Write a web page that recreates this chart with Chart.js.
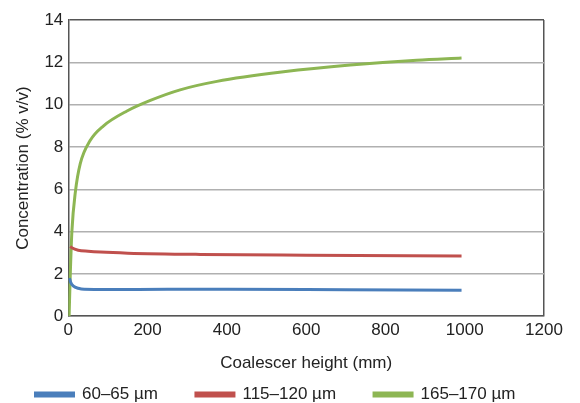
<!DOCTYPE html>
<html>
<head>
<meta charset="utf-8">
<script src="https://cdn.jsdelivr.net/npm/chart.js@4/dist/chart.umd.min.js"></script>
<style>
  html, body { margin: 0; padding: 0; background: #fff; }
  #wrap { width: 580px; height: 403px; position: relative; }
</style>
</head>
<body>
<div id="wrap"><canvas id="chart"></canvas></div>
<script>
// series labels
const seriesNames = ['60–65 µm', '115–120 µm', '165–170 µm'];

// coalescer height (mm) and concentration (% v/v)
const blueX = [3, 6, 13, 25, 40, 100, 250, 400, 700, 992];
const blueY = [1.8, 1.6, 1.42, 1.32, 1.27, 1.26, 1.27, 1.27, 1.25, 1.23];

const redX = [5, 10, 25, 50, 81, 150, 333, 600, 992];
const redY = [3.3, 3.22, 3.12, 3.07, 3.03, 2.98, 2.92, 2.88, 2.84];

const greenX = [2, 5, 9, 18, 30, 55, 89, 148, 207, 282, 375, 543, 711, 879, 992];
const greenY = [0, 2.0, 4.0, 5.9, 7.2, 8.3, 9.0, 9.7, 10.2, 10.7, 11.1, 11.55, 11.87, 12.1, 12.2];

const colors = ['#4a7ebb', '#c0504d', '#8db653'];

function pts(xs, ys) {
  return xs.map((x, i) => ({ x: x, y: ys[i] }));
}

const font = { family: 'Liberation Sans, Arial, sans-serif', size: 17 };
Chart.defaults.color = '#222';

// legend: wide gaps between items, one row, short box, starting near the left edge
const legendTweak = {
  id: 'legendTweak',
  afterInit(chart) {
    const lg = chart.legend;
    const fit = lg.fit;
    lg.fit = function () {
      const mw = this.maxWidth;
      this.maxWidth = 2000;
      fit.call(this);
      this.maxWidth = mw;
      this.width = Math.min(this.width, mw);
      this.height = 29;
    };
    const draw = lg.draw;
    lg.draw = function () {
      const L = this.left, R = this.right, T = this.top;
      const pad = this.options.labels.padding;
      this.left = 35 - pad;
      this.right = this.left + pad + this.lineWidths[0] + 1;
      this.top = T - pad + 12;
      draw.call(this);
      this.left = L; this.right = R; this.top = T;
    };
  }
};

new Chart(document.getElementById('chart'), {
  type: 'line',
  data: {
    datasets: [
      { label: seriesNames[0], data: pts(blueX, blueY) },
      { label: seriesNames[1], data: pts(redX, redY) },
      { label: seriesNames[2], data: pts(greenX, greenY) }
    ].map((d, i) => Object.assign(d, {
      borderColor: colors[i],
      backgroundColor: colors[i],
      borderWidth: 3,
      pointRadius: 0,
      cubicInterpolationMode: 'monotone'
    }))
  },
  plugins: [legendTweak],
  options: {
    responsive: true,
    maintainAspectRatio: false,
    animation: false,
    layout: { padding: { top: 20, right: 36, left: 7, bottom: 0 } },
    plugins: {
      tooltip: { enabled: false },
      legend: {
        position: 'bottom',
        labels: {
          font: font,
          boxWidth: 38,
          boxHeight: 3,
          padding: 38,
          color: '#222'
        }
      }
    },
    scales: {
      x: {
        type: 'linear',
        min: 0,
        max: 1200,
        ticks: { stepSize: 200, font: font, padding: 4, maxRotation: 0, callback: v => String(v) },
        border: { color: '#555', width: 1.5 },
        grid: {
          drawTicks: false,
          lineWidth: 1.5,
          color: ctx => ctx.tick && ctx.tick.value === 1200 ? '#555' : 'rgba(0,0,0,0)'
        },
        title: { display: true, text: 'Coalescer height (mm)', font: font, padding: { top: 9, bottom: 0 } }
      },
      y: {
        min: 0,
        max: 14,
        ticks: { stepSize: 2, font: font, padding: 5, callback: v => String(v) },
        border: { color: '#555', width: 1.5 },
        grid: {
          drawTicks: false,
          lineWidth: 1.5,
          color: ctx => ctx.tick && ctx.tick.value === 14 ? '#555' : '#b0b0b0'
        },
        title: { display: true, text: 'Concentration (% v/v)', font: font, padding: { top: 6, bottom: 6 } }
      }
    }
  }
});
</script>
</body>
</html>
